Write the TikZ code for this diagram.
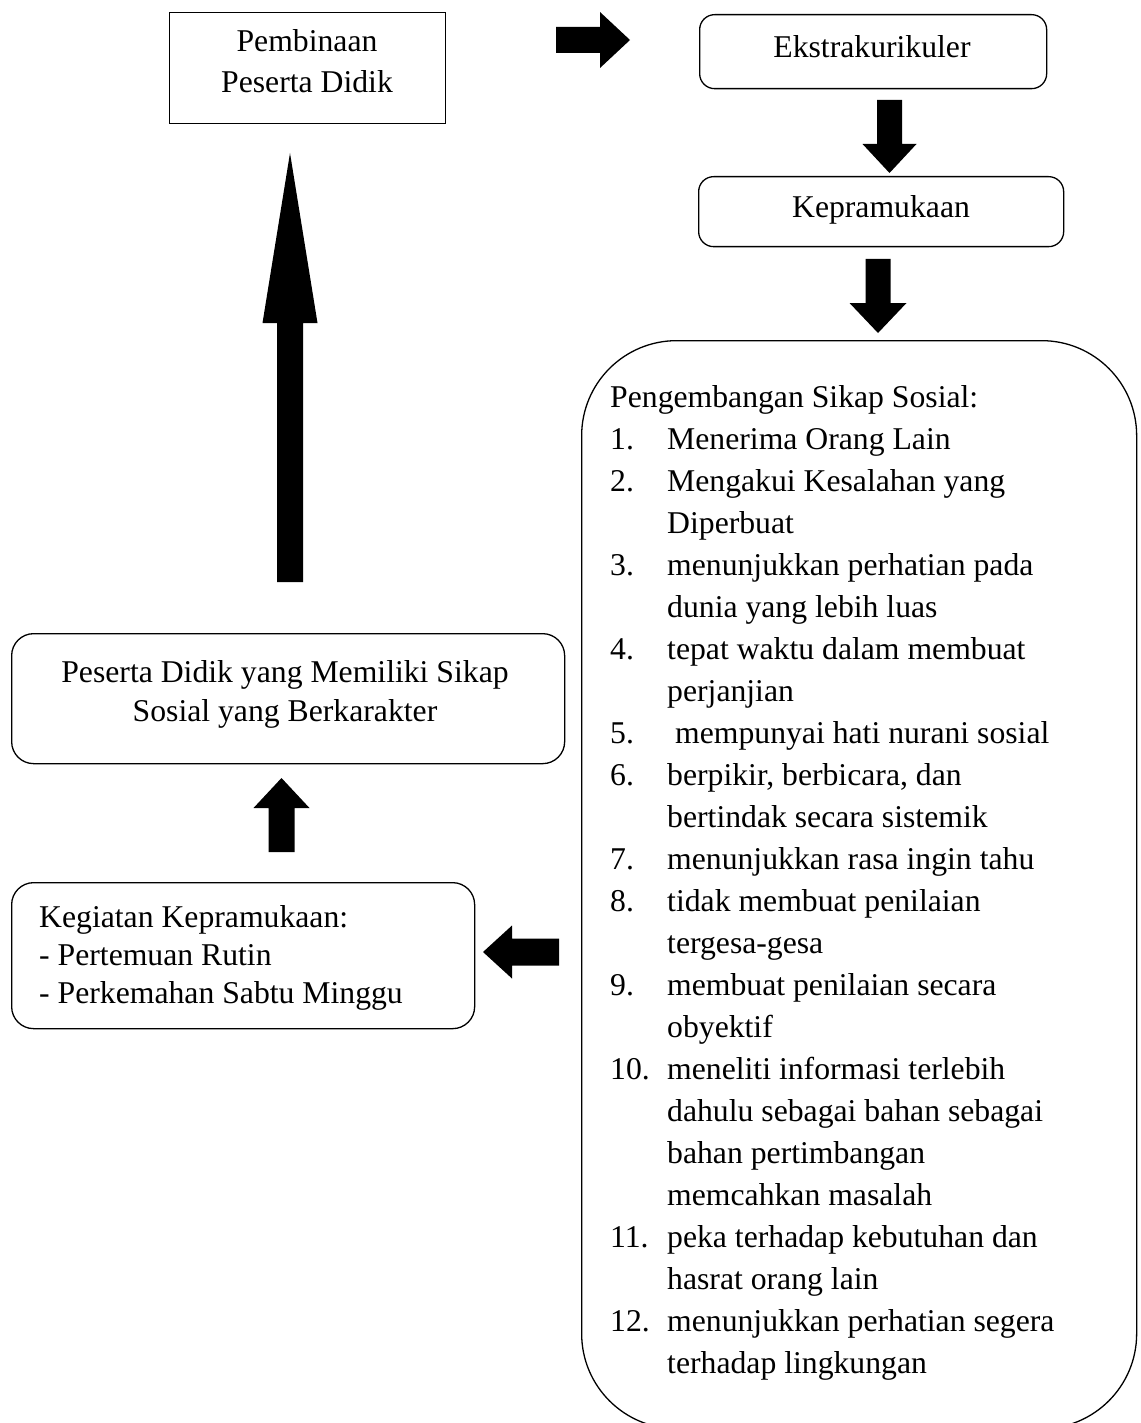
\documentclass[tikz,border=0pt]{standalone}
\usepackage{fontspec}
\setmainfont{Liberation Serif}
\usetikzlibrary{calc}
\newcommand\blockarr[5]{%
  \coordinate (#1-h) at ($(#2)!#5!(#1)$);
  \fill ($(#1)!#3!90:(#2)$) -- ($(#1-h)!#3!90:(#2)$) -- ($(#1-h)!#4!90:(#2)$) -- (#2)
     -- ($(#1-h)!#4!-90:(#2)$) -- ($(#1-h)!#3!-90:(#2)$) -- ($(#1)!#3!-90:(#2)$) -- cycle;
}
\begin{document}
\begin{tikzpicture}[x=1pt,y=-1pt,
  box/.style={draw, line width=1.3pt, inner sep=0pt, anchor=north west},
  rbox/.style={box, rounded corners=15pt},
  txt/.style={inner sep=0pt, font=\fontsize{31.7}{42}\selectfont},
]
\useasboundingbox (0,0) rectangle (1140,1423);
\clip (0,0) rectangle (1140,1423);

% boxes
\node[box, minimum width=276pt, minimum height=111pt] (pemb) at (169,12) {};
\node[rbox, minimum width=347pt, minimum height=74pt] (ekstra) at (699,14) {};
\node[rbox, minimum width=365pt, minimum height=70pt] (kepr) at (698,176) {};
\node[box, rounded corners=95pt, minimum width=555pt, minimum height=1088pt] (sosial) at (581,340) {};
\node[rbox, rounded corners=22pt, minimum width=553pt, minimum height=130pt] (hasil) at (11,633) {};
\node[rbox, rounded corners=22pt, minimum width=463pt, minimum height=146pt] (keg) at (11,882) {};

% texts
\node[txt, anchor=base] (pemb1) at (307,52) {Pembinaan};
\node[txt, anchor=base] (pemb2) at (307,93) {Peserta Didik};
\node[txt, anchor=base] (ekstrat) at (872,58) {Ekstrakurikuler};
\node[txt, anchor=base] (keprt) at (881,218) {Kepramukaan};
\node[txt, anchor=base] (hasil1) at (285,682) {Peserta Didik yang Memiliki Sikap};
\node[txt, anchor=base] (hasil2) at (285,721) {Sosial yang Berkarakter};
\node[txt, anchor=base west] (keg1) at (39,927) {Kegiatan Kepramukaan:};
\node[txt, anchor=base west] (keg2) at (39,965) {- Pertemuan Rutin};
\node[txt, anchor=base west] (keg3) at (39,1003) {- Perkemahan Sabtu Minggu};

\node[txt, anchor=base west] (l0) at (610,407) {Pengembangan Sikap Sosial:};
\foreach \i/\n/\t in {
  1/{1.}/{Menerima Orang Lain},
  2/{2.}/{Mengakui Kesalahan yang},
  3/{}/{Diperbuat},
  4/{3.}/{menunjukkan perhatian pada},
  5/{}/{dunia yang lebih luas},
  6/{4.}/{tepat waktu dalam membuat},
  7/{}/{perjanjian},
  8/{5.}/{\hspace*{8pt}mempunyai hati nurani sosial},
  9/{6.}/{berpikir, berbicara, dan},
  10/{}/{bertindak secara sistemik},
  11/{7.}/{menunjukkan rasa ingin tahu},
  12/{8.}/{tidak membuat penilaian},
  13/{}/{tergesa-gesa},
  14/{9.}/{membuat penilaian secara},
  15/{}/{obyektif},
  16/{10.}/{meneliti informasi terlebih},
  17/{}/{dahulu sebagai bahan sebagai},
  18/{}/{bahan pertimbangan},
  19/{}/{memcahkan masalah},
  20/{11.}/{peka terhadap kebutuhan dan},
  21/{}/{hasrat orang lain},
  22/{12.}/{menunjukkan perhatian segera},
  23/{}/{terhadap lingkungan}}{
  \node[txt, anchor=base west] (l\i) at (610,{407+42*\i}) {\makebox[57pt][l]{\n}\t};
}

% block arrows
\coordinate (a1s) at (556,40);   \coordinate (a1e) at (630,40);
\coordinate (a2s) at (889.5,100); \coordinate (a2e) at (889.5,173);
\coordinate (a3s) at (878,259);  \coordinate (a3e) at (878,333);
\coordinate (a4s) at (559,952);  \coordinate (a4e) at (483,952);
\coordinate (a5s) at (281.5,852); \coordinate (a5e) at (281.5,778);
\coordinate (a6s) at (290,582);  \coordinate (a6e) at (290,153);
\blockarr{a1s}{a1e}{13pt}{28pt}{30pt}
\blockarr{a2s}{a2e}{12.5pt}{27pt}{29pt}
\blockarr{a3s}{a3e}{12.5pt}{28.5pt}{30pt}
\blockarr{a4s}{a4e}{13.5pt}{26.5pt}{29pt}
\blockarr{a5s}{a5e}{13pt}{28pt}{30pt}
\blockarr{a6s}{a6e}{13pt}{27.5pt}{170pt}
\end{tikzpicture}
\end{document}
